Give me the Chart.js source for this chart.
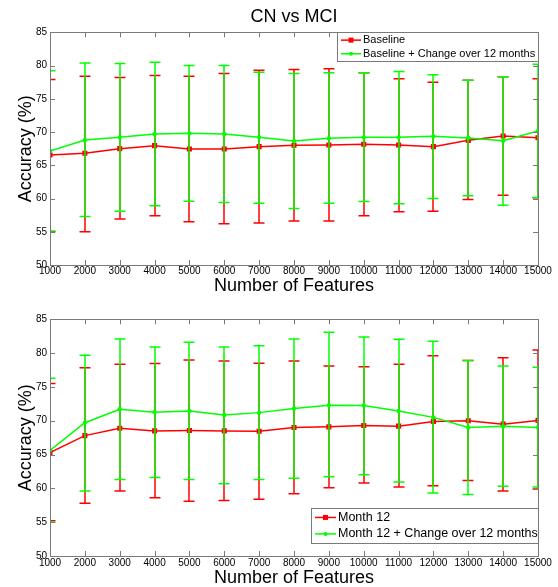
<!DOCTYPE html>
<html>
<head>
<meta charset="utf-8">
<title>CN vs MCI</title>
<script src="https://cdn.jsdelivr.net/npm/chart.js@4/dist/chart.umd.min.js"></script>
<style>
  html, body { margin: 0; padding: 0; background: #fff; overflow: hidden; }
  body { width: 558px; height: 587px; position: relative; }
  canvas { position: absolute; left: 0; }
  #chartTop { top: 0; }
  #chartBottom { top: 293px; }
</style>
</head>
<body>
<canvas id="chartTop" width="558" height="300"></canvas>
<canvas id="chartBottom" width="558" height="300"></canvas>
<script>
// Numero de features (eje x)
const features = [1000, 2000, 3000, 4000, 5000, 6000, 7000, 8000, 9000, 10000, 11000, 12000, 13000, 14000, 15000];
const yTicks = [50, 55, 60, 65, 70, 75, 80, 85];

// Grafico de arriba: Baseline
const baseMean  = [66.55, 66.8, 67.5, 67.95, 67.45, 67.45, 67.8, 68.0, 68.05, 68.15, 68.05, 67.8, 68.75, 69.4, 69.15];
const baseUpper = [77.9, 78.4, 78.2, 78.5, 78.4, 78.8, 79.3, 79.4, 79.5, 78.9, 78.0, 77.5, 77.8, 78.3, 78.0];
const baseLower = [55.0, 55.0, 56.9, 57.4, 56.5, 56.2, 56.3, 56.6, 56.6, 57.4, 58.0, 58.1, 59.85, 60.5, 60.1];

// Grafico de arriba: Baseline + Change over 12 months
const baseChgMean  = [67.15, 68.8, 69.2, 69.7, 69.8, 69.7, 69.2, 68.65, 69.05, 69.2, 69.2, 69.35, 69.1, 68.7, 70.15];
const baseChgUpper = [79.2, 80.4, 80.3, 80.5, 80.0, 80.0, 79.0, 78.8, 78.9, 78.9, 79.1, 78.6, 77.8, 78.3, 80.2];
const baseChgLower = [55.1, 57.3, 58.1, 58.9, 59.6, 59.4, 59.3, 58.5, 59.3, 59.55, 59.2, 60.0, 60.4, 59.0, 60.15];

// Grafico de abajo: Month 12
const m12Mean  = [65.3, 67.8, 68.9, 68.5, 68.55, 68.5, 68.45, 69.0, 69.1, 69.3, 69.2, 69.9, 70.0, 69.5, 70.05];
const m12Upper = [75.5, 77.85, 78.35, 78.45, 79.0, 78.85, 78.5, 78.85, 78.1, 78.0, 78.35, 79.6, 78.9, 79.3, 80.45];
const m12Lower = [55.2, 57.8, 59.6, 58.6, 58.1, 58.2, 58.4, 59.2, 60.1, 60.8, 60.2, 60.4, 61.15, 59.6, 59.9];

// Grafico de abajo: Month 12 + Change over 12 months
const m12ChgMean  = [65.6, 69.7, 71.7, 71.25, 71.45, 70.85, 71.2, 71.8, 72.3, 72.25, 71.45, 70.5, 69.0, 69.2, 69.0];
const m12ChgUpper = [76.3, 79.7, 82.1, 80.9, 81.6, 80.9, 81.1, 82.1, 83.1, 82.4, 82.05, 81.75, 78.9, 78.1, 77.9];
const m12ChgLower = [55.0, 59.6, 61.3, 61.6, 61.3, 60.7, 61.3, 61.5, 61.7, 62.0, 60.95, 59.3, 59.1, 60.3, 60.2];

const ROJO = '#ff0000';
const VERDE = '#00ff00';
const GRIS = '#7a7a7a';
const FUENTE = 'Arial, "Liberation Sans", sans-serif';

// Barras de error estilo MATLAB (linea vertical + topes)
const barrasError = {
    id: 'barrasError',
    beforeDatasetDraw(chart, args) {
        const ds = chart.data.datasets[args.index];
        const { ctx, chartArea: a, scales: { x, y } } = chart;
        ctx.save();
        ctx.beginPath();
        ctx.rect(a.left, a.top, a.right - a.left, a.bottom - a.top);
        ctx.clip();
        ctx.strokeStyle = ds.borderColor;
        ctx.lineWidth = 1.5;
        ds.data.forEach((p, i) => {
            const px = Math.round(x.getPixelForValue(p.x));
            const yt = y.getPixelForValue(ds.errUpper[i]);
            const yb = y.getPixelForValue(ds.errLower[i]);
            ctx.beginPath();
            ctx.moveTo(px, yt); ctx.lineTo(px, yb);
            ctx.moveTo(px - 5.5, yt); ctx.lineTo(px + 5.5, yt);
            ctx.moveTo(px - 5.5, yb); ctx.lineTo(px + 5.5, yb);
            ctx.stroke();
        });
        ctx.restore();
    }
};

// Caja de ejes con ticks hacia dentro + leyenda con borde
const marco = {
    id: 'marco',
    afterDraw(chart, args, opts) {
        const { ctx, chartArea: a, scales: { x, y } } = chart;
        ctx.save();
        ctx.strokeStyle = GRIS;
        ctx.lineWidth = 1;
        ctx.beginPath();
        x.ticks.forEach(t => {
            const px = Math.round(x.getPixelForValue(t.value)) + 0.5;
            ctx.moveTo(px, a.bottom); ctx.lineTo(px, a.bottom - 5);
            ctx.moveTo(px, a.top); ctx.lineTo(px, a.top + 5);
        });
        y.ticks.forEach(t => {
            const py = Math.round(y.getPixelForValue(t.value)) + 0.5;
            ctx.moveTo(a.left, py); ctx.lineTo(a.left + 5, py);
            ctx.moveTo(a.right, py); ctx.lineTo(a.right - 5, py);
        });
        ctx.stroke();
        ctx.strokeRect(Math.round(a.left) + 0.5, Math.round(a.top) + 0.5,
            Math.round(a.right - a.left), Math.round(a.bottom - a.top));

        // leyenda
        const w = opts.width, h = opts.height;
        const bx = a.right - w;
        const by = opts.anchor === 'top' ? a.top : a.bottom - opts.offset - h;
        ctx.fillStyle = '#fff';
        ctx.fillRect(bx, by, w, h);
        ctx.strokeStyle = GRIS;
        ctx.strokeRect(Math.round(bx) + 0.5, Math.round(by) + 0.5, w, h);
        ctx.font = opts.fontSize + 'px ' + FUENTE;
        ctx.textBaseline = 'middle';
        chart.data.datasets.forEach((ds, i) => {
            const ry = by + h * (i === 0 ? 0.27 : 0.74);
            const x0 = bx + 4, x1 = x0 + opts.sample;
            ctx.strokeStyle = ds.borderColor;
            ctx.lineWidth = 1.5;
            ctx.beginPath(); ctx.moveTo(x0, ry); ctx.lineTo(x1, ry); ctx.stroke();
            ctx.fillStyle = ds.borderColor;
            const mx = (x0 + x1) / 2;
            if (ds.pointStyle === 'rect') {
                ctx.fillRect(mx - 2.5, ry - 2.5, 5, 5);
            } else {
                ctx.beginPath(); ctx.arc(mx, ry, 2, 0, Math.PI * 2); ctx.fill();
            }
            ctx.fillStyle = '#000';
            ctx.fillText(ds.label, x1 + 2, ry);
        });
        ctx.restore();
    }
};

// orden: la segunda serie (verde) se dibuja encima, como en MATLAB
function serie(label, color, estilo, orden, media, sup, inf) {
    return {
        label: label,
        data: features.map((f, i) => ({ x: f, y: media[i] })),
        errUpper: sup,
        errLower: inf,
        order: orden,
        borderColor: color,
        backgroundColor: color,
        borderWidth: 1.5,
        pointStyle: estilo,
        pointRadius: estilo === 'rect' ? 3.6 : 2.2,
        pointBorderWidth: 0,
        tension: 0,
        clip: 0
    };
}

function crearGrafico(id, series, cfg) {
    return new Chart(document.getElementById(id), {
        type: 'line',
        data: { datasets: series },
        options: {
            responsive: false,
            animation: false,
            events: [],
            layout: { padding: { top: cfg.padTop, right: 20, left: 0, bottom: 0 } },
            plugins: {
                legend: { display: false },
                tooltip: { enabled: false },
                title: {
                    display: !!cfg.titulo,
                    text: cfg.titulo,
                    fullSize: false,
                    color: '#000',
                    font: { family: FUENTE, size: 18, weight: 'normal', lineHeight: 1.2 },
                    padding: { top: 6, bottom: 4.7 }
                },
                marco: cfg.leyenda
            },
            scales: {
                x: {
                    type: 'linear',
                    min: 1000,
                    max: 15000,
                    afterBuildTicks: s => { s.ticks = features.map(v => ({ value: v })); },
                    ticks: {
                        autoSkip: false, maxRotation: 0, padding: cfg.xPad, color: '#000',
                        font: { family: FUENTE, size: 10 },
                        callback: v => String(v)
                    },
                    grid: { display: false, drawTicks: false },
                    border: { display: false },
                    title: {
                        display: true, text: 'Number of Features', color: '#000',
                        font: { family: FUENTE, size: 18, lineHeight: 1.2 },
                        padding: { top: 0, bottom: cfg.xTitlePad }
                    },
                    afterFit: s => { s.height = cfg.xHeight; }
                },
                y: {
                    min: 50,
                    max: 85,
                    afterBuildTicks: s => { s.ticks = yTicks.map(v => ({ value: v })); },
                    ticks: {
                        padding: 3, color: '#000',
                        font: { family: FUENTE, size: 10 }
                    },
                    grid: { display: false, drawTicks: false },
                    border: { display: false },
                    title: {
                        display: true, text: 'Accuracy (%)', color: '#000',
                        font: { family: FUENTE, size: 18, lineHeight: 1.2 },
                        padding: { top: 15.7, bottom: 0 }
                    },
                    afterFit: s => { s.width = 50; }
                }
            }
        },
        plugins: [barrasError, marco]
    });
}

crearGrafico('chartTop', [
    serie('Baseline', ROJO, 'rect', 1, baseMean, baseUpper, baseLower),
    serie('Baseline + Change over 12 months', VERDE, 'circle', 0, baseChgMean, baseChgUpper, baseChgLower)
], {
    titulo: 'CN vs MCI', padTop: 0, xHeight: 35, xPad: 0.7, xTitlePad: 3.2,
    leyenda: { anchor: 'top', width: 201, height: 29, fontSize: 11, sample: 20, offset: 0 }
});

crearGrafico('chartBottom', [
    serie('Month 12', ROJO, 'rect', 1, m12Mean, m12Upper, m12Lower),
    serie('Month 12 + Change over 12 months', VERDE, 'circle', 0, m12ChgMean, m12ChgUpper, m12ChgLower)
], {
    titulo: '', padTop: 26.3, xHeight: 37, xPad: 1.7, xTitlePad: 4.2,
    leyenda: { anchor: 'bottom', width: 227, height: 35, fontSize: 12.5, sample: 21, offset: 13 }
});
</script>
</body>
</html>
